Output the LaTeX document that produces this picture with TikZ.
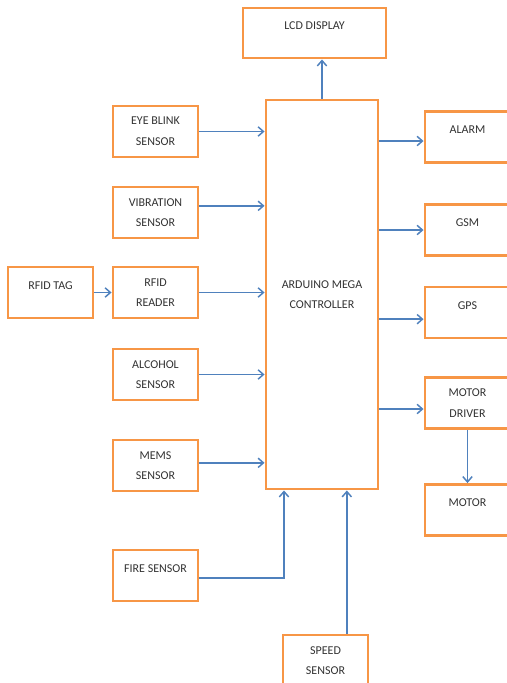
\documentclass[tikz,border=0pt]{standalone}
\usepackage{fontspec}
\setmainfont{Carlito}
\usetikzlibrary{arrows.meta}
\definecolor{boxorange}{HTML}{F79646}
\definecolor{lineblue}{HTML}{4F81BD}
\tikzset{
 blk/.style={draw=boxorange, line width=2.2pt, fill=white, minimum width=63.75pt,
   minimum height=38.25pt, align=center, inner sep=1pt, text=black!80,
   font=\fontsize{9}{15.5}\selectfont},
 oneline/.style={text depth=10.5pt},
 link/.style={draw=lineblue, line width=1.1pt, -{Straight Barb[length=4pt,width=7pt]}}
}
\begin{document}
\begin{tikzpicture} [x=0.75pt, y=-0.75pt]
\useasboundingbox[fill=white] (0,0) rectangle (507,683);
% controller in the middle
\node[blk, minimum width=84pt, minimum height=291.75pt] (ctrl) at (322,294.5) {ARDUINO MEGA\\CONTROLLER};
\node[blk, oneline, minimum width=107.25pt, minimum height=37.5pt] (lcd) at (314.5,33) {LCD DISPLAY};
% sensors on the left
\foreach \n/\y/\t in {eye/131.5/{EYE BLINK\\SENSOR}, vib/212.5/{VIBRATION\\SENSOR},
  rdr/292.5/{RFID\\READER}, alc/374.5/{ALCOHOL\\SENSOR}, mems/465.5/{MEMS\\SENSOR}} {
 \node[blk] (\n) at (155.5,\y) {\t};
}
\node[blk, oneline] (fire) at (155.5,575.5) {FIRE SENSOR};
\node[blk, oneline] (tag) at (50.5,292.5) {RFID TAG};
\node[blk] (speed) at (325.5,660.5) {SPEED\\SENSOR};
% outputs on the right
\foreach \n/\y/\t in {alarm/137/ALARM, gsm/230/GSM, gps/312.5/GPS, motor/510/MOTOR} {
 \node[blk, oneline] (\n) at (467.5,\y) {\t};
}
\node[blk] (drv) at (467.5,403) {MOTOR\\DRIVER};
% links
\draw[link] (ctrl.north -| lcd.south) ++(7.5,0) coordinate (c1) -- (c1 |- lcd.south);
\draw[link] (eye.east) -- (eye.east -| ctrl.west);
\draw[link] ([yshift=5pt]vib.east) -- ([yshift=5pt]vib.east -| ctrl.west);
\draw[link] (tag) -- (rdr);
\draw[link] (rdr) -- (rdr -| ctrl.west);
\draw[link] (alc.east) -- (alc.east -| ctrl.west);
\draw[link] ([yshift=2pt]mems.east) -- ([yshift=2pt]mems.east -| ctrl.west);
\draw[link] ([yshift=-2pt]fire.east) -| ([xshift=-28.5pt]ctrl.south);
\draw[link] ([xshift=16pt]speed.north) -- ([xshift=16pt]speed.north |- ctrl.south);
\draw[link] ([yshift=-3pt]alarm.west -| ctrl.east) -- ([yshift=-3pt]alarm.west);
\draw[link] (gsm.west -| ctrl.east) -- (gsm.west);
\draw[link] ([yshift=-5pt]gps.west -| ctrl.east) -- ([yshift=-5pt]gps.west);
\draw[link] ([yshift=-4.5pt]drv.west -| ctrl.east) -- ([yshift=-4.5pt]drv.west);
\draw[link] (drv) -- (motor);
\end{tikzpicture}
\end{document}
